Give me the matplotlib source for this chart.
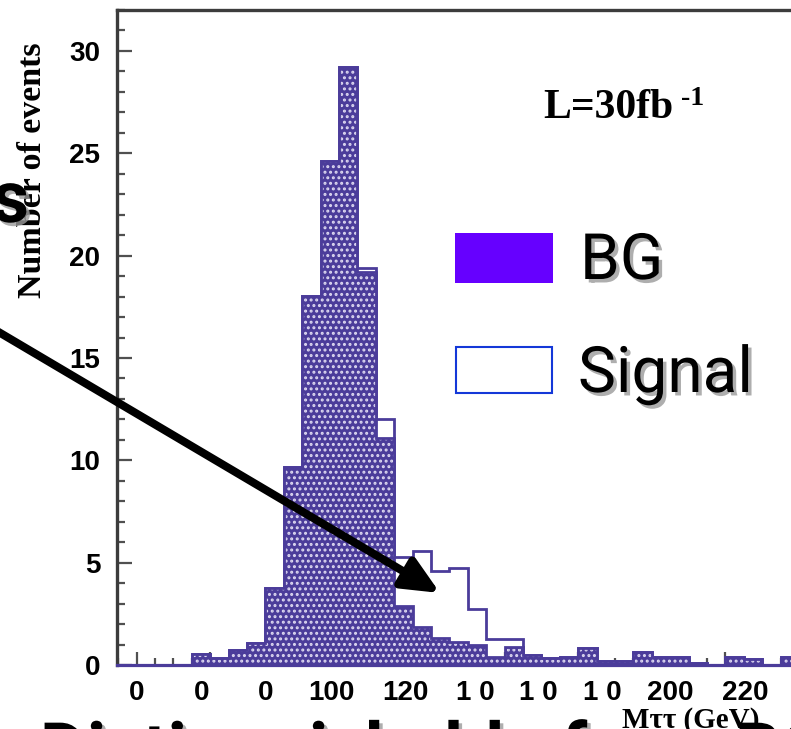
import numpy as np
import matplotlib
matplotlib.use("Agg")
import matplotlib.pyplot as plt
from matplotlib.ticker import MultipleLocator
from matplotlib.patches import Rectangle
import matplotlib.patheffects as pe

# ---- data: M_tautau histogram, 5 GeV bins starting at 55 GeV ----
bin_start = 55.0
bin_width = 5.0
bg = [0.55, 0.33, 0.73, 1.06, 3.74, 9.67, 18.05, 24.6, 29.2, 19.2,
      11.1, 2.9, 1.85, 1.3, 1.1, 1.0, 0.4, 0.9, 0.49, 0.33,
      0.4, 0.81, 0.2, 0.2, 0.62, 0.38, 0.38, 0.08, 0.0, 0.38,
      0.28, 0.0, 0.38]
sig = [0.0, 0.0, 0.0, 0.0, 0.0, 0.0, 0.0, 0.0, 0.0, 0.2,
       0.9, 2.38, 3.7, 3.3, 3.66, 1.73, 0.87, 0.37, 0.0, 0.0,
       0.0, 0.0, 0.0, 0.0, 0.0, 0.0, 0.0, 0.0, 0.0, 0.0,
       0.0, 0.0, 0.0]

# x tick labels as printed on the axis, and where they sit (GeV)
tick_text = ["0", "0", "0", "100", "120", "1 0", "1 0", "1 0", "200", "220"]
label_at = [40.1, 57.8, 75.2, 93.1, 113.0, 132.0, 149.1, 166.5, 185.0, 205.4]

y_ticks = [0, 5, 10, 15, 20, 25, 30]

legend_labels = ["BG", "Signal"]

# ---- figure geometry (pixels at 100 dpi) ----
W, H = 791, 729
fig = plt.figure(figsize=(W / 100, H / 100), dpi=100)
fig.patch.set_facecolor("white")

px_per_gev = 3.68
xlo, xhi = 34.7, 250.0
ax_left_px, ax_top_px, ax_bot_px = 117, 10, 665
ax = fig.add_axes([ax_left_px / W, (H - ax_bot_px) / H,
                   (xhi - xlo) * px_per_gev / W, (ax_bot_px - ax_top_px) / H])
ax.set_xlim(xlo, xhi)
ax.set_ylim(0, 32)
ax.set_axisbelow(True)

hist_col = "#4b3c9a"
edges = bin_start + bin_width * np.arange(len(bg) + 1)
bg_arr = np.array(bg)
tot_arr = bg_arr + np.array(sig)

plt.rcParams["hatch.linewidth"] = 1.4

# signal + background outline
ax.stairs(tot_arr, edges, color=hist_col, lw=2.0, zorder=2)
# background filled with dotted texture
ax.bar(edges[:-1], bg_arr, width=bin_width, align="edge",
       color=hist_col, lw=0, zorder=3)
ax.bar(edges[:-1], bg_arr, width=bin_width, align="edge",
       facecolor="none", edgecolor="#dcd7f0", hatch="...", lw=0, zorder=3.1)
ax.stairs(bg_arr, edges, color=hist_col, lw=2.0, zorder=3.2)

# spines
for s in ("left", "top", "right"):
    ax.spines[s].set_color("#3c3c3c")
    ax.spines[s].set_linewidth(2.4)
ax.spines["bottom"].set_color(hist_col)
ax.spines["bottom"].set_linewidth(2.3)

# ticks
ax.xaxis.set_major_locator(MultipleLocator(20))
ax.xaxis.set_minor_locator(MultipleLocator(5))
ax.yaxis.set_major_locator(MultipleLocator(5))
ax.yaxis.set_minor_locator(MultipleLocator(1))
ax.tick_params(axis="both", which="both", direction="in", color="#505050",
               width=1.6, top=False, right=False)
ax.tick_params(axis="x", which="major", length=9.5, labelbottom=False)
ax.tick_params(axis="x", which="minor", length=5)
ax.tick_params(axis="y", which="major", length=11, pad=12)
ax.tick_params(axis="y", which="minor", length=5.5)
ax.set_yticks(y_ticks)
for lab in ax.get_yticklabels():
    lab.set_fontfamily("Liberation Sans")
    lab.set_fontweight("bold")
    lab.set_fontsize(20)

sec = ax.secondary_xaxis("bottom")
sec.set_xticks(label_at, labels=tick_text)
sec.tick_params(length=0, pad=11)
sec.spines["bottom"].set_visible(False)
for lab in sec.get_xticklabels():
    lab.set_fontfamily("Liberation Sans")
    lab.set_fontweight("bold")
    lab.set_fontsize(20)

def fx(px):
    return px / W

def fy(py):
    return (H - py) / H

# axis titles
fig.text(fx(33), fy(170), "Number of events", rotation=90, ha="center",
         va="center", family="Liberation Serif", weight="bold", fontsize=24.5)
fig.text(fx(622), fy(728), "M\u03c4\u03c4 (GeV)", ha="left", va="baseline",
         family="Liberation Serif", weight="bold", fontsize=21, zorder=5)

# luminosity
fig.text(fx(543), fy(118), "L=30fb", ha="left", va="baseline",
         family="Liberation Serif", weight="bold", fontsize=30)
fig.text(fx(681), fy(105), "-1", ha="left", va="baseline",
         family="Liberation Serif", weight="bold", fontsize=20)

# legend boxes
shadow = [pe.withSimplePatchShadow(offset=(2.5, -2.5), shadow_rgbFace="#9a9a9a",
                                   alpha=0.8)]
fig.patches.append(Rectangle((fx(455), fy(283)), 98 / W, 50 / H,
                             transform=fig.transFigure, facecolor="#6600ff",
                             edgecolor="none"))
fig.patches.append(Rectangle((fx(456), fy(393)), 96 / W, 46 / H,
                             transform=fig.transFigure, facecolor="white",
                             edgecolor="#1438d8", lw=1.5))
fig.text(fx(580), fy(279), legend_labels[0], ha="left", va="baseline",
         family="Roboto", fontsize=46, path_effects=shadow)
fig.text(fx(578), fy(392), legend_labels[1], ha="left", va="baseline",
         family="Roboto", fontsize=46, path_effects=shadow)

# call-out text and arrow
fig.text(fx(29), fy(222), "s", ha="right", va="baseline", family="Roboto",
         weight="bold", fontsize=52, path_effects=shadow)
fig.text(fx(40), fy(774), "Distinguishable from BG", ha="left", va="baseline",
         family="Roboto", weight="bold", fontsize=52, path_effects=shadow,
         zorder=4)
ax.annotate("", xy=(440, H - 593), xycoords="figure pixels",
            xytext=(-20, H - 321), textcoords="figure pixels",
            arrowprops=dict(arrowstyle="-|>,head_length=1.1,head_width=0.5",
                            mutation_scale=20, lw=5.8, color="black",
                            shrinkA=0, shrinkB=0),
            annotation_clip=False, zorder=10)

fig.savefig("out.png", dpi=100)
